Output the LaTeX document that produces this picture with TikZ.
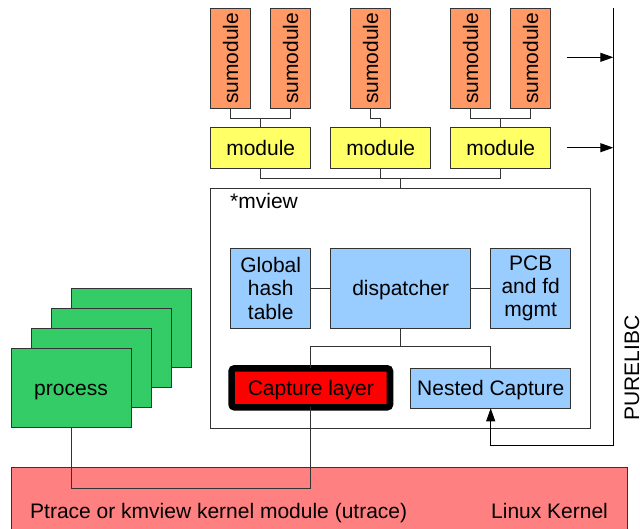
\documentclass[tikz,border=0pt]{standalone}
\usepackage{fontspec}
\setmainfont{Liberation Sans}
\usetikzlibrary{arrows.meta}
\definecolor{sumc}{HTML}{FF9966}
\definecolor{modc}{HTML}{FFFF66}
\definecolor{bluec}{HTML}{99CCFF}
\definecolor{greenc}{HTML}{33CC66}
\definecolor{kernc}{HTML}{FF8080}
\definecolor{linec}{HTML}{333333}
\begin{document}
\begin{tikzpicture}[x=1pt,y=-1pt,
  box/.style={draw=linec,line width=0.9pt,inner sep=0pt,outer sep=0pt,align=center,
    font=\fontsize{21}{23.3}\selectfont},
  oneline/.style={text height=15pt,text depth=0pt},
  sumbox/.style={box,fill=sumc,minimum width=40pt,minimum height=100pt},
  modbox/.style={box,oneline,fill=modc,minimum width=100pt,minimum height=40.6pt},
  bluebox/.style={box,fill=bluec},
  procbox/.style={box,oneline,fill=greenc,minimum width=120pt,minimum height=79.4pt},
  conn/.style={draw=linec,line width=0.9pt},
  arr/.style={conn,draw=black,-{Triangle[length=13pt,width=9pt]}},
  lbl/.style={inner sep=0pt,font=\fontsize{21}{23.3}\selectfont}]
\useasboundingbox (0,0) rectangle (640,528);
% kernel
\node[box,fill=kernc,minimum width=616.7pt,minimum height=80pt,anchor=north west] (kern) at (11,467.7) {};
\node[lbl,anchor=base west] (ktext) at (30,518.5) {Ptrace or kmview kernel module (utrace)};
\node[lbl,anchor=base west] (ltext) at (491,518.5) {Linux Kernel};
% sumodules
\node[sumbox] (s1) at (230.7,58.3) {\rotatebox{90}{sumodule}};
\node[sumbox] (s2) at (290.7,58.3) {\rotatebox{90}{sumodule}};
\node[sumbox] (s3) at (370.7,58.3) {\rotatebox{90}{sumodule}};
\node[sumbox] (s4) at (470.7,58.3) {\rotatebox{90}{sumodule}};
\node[sumbox] (s5) at (530.7,58.3) {\rotatebox{90}{sumodule}};
% modules
\node[modbox] (m1) at (260.7,148) {module};
\node[modbox] (m2) at (380.7,148) {module};
\node[modbox] (m3) at (500.7,148) {module};
\coordinate (j1) at (260.7,118.3);
\coordinate (j2) at (380.7,118.3);
\coordinate (j3) at (500.7,118.3);
\draw[conn] (s1.south) |- (j1) -| (s2.south);
\draw[conn] (j1) -- (m1.north);
\draw[conn] (s3.south) |- (j2) -- (m2.north);
\draw[conn] (s4.south) |- (j3) -| (s5.south);
\draw[conn] (j3) -- (m3.north);
% mview
\node[box,minimum width=380pt,minimum height=240pt] (mview) at (400.7,308.3) {};
\node[lbl,anchor=base west] (mvt) at (230,208) {*mview};
\coordinate (j4) at (400.7,178.3);
\draw[conn] (m1.south) |- (j4) -| (m3.south);
\draw[conn] (m2.south) -- (m2.south |- j4);
\draw[conn] (j4) -- (mview.north);
% inner blocks
\node[bluebox,minimum width=80pt,minimum height=80pt] (ght) at (270.7,288.3) {Global\\hash\\table};
\node[bluebox,oneline,minimum width=140pt,minimum height=80pt] (disp) at (400.7,288.3) {dispatcher};
\node[bluebox,minimum width=80pt,minimum height=80pt] (pcb) at (530.7,288.3) {PCB\\and fd\\mgmt};
\draw[conn] (ght.east) -- (disp.west);
\draw[conn] (disp.east) -- (pcb.west);
\node[box,oneline,draw=black,fill=red,line width=6.6pt,rounded corners=3pt,minimum width=158.4pt,minimum height=39pt] (cap) at (310.8,387.8) {Capture layer};
\node[bluebox,oneline,minimum width=160pt,minimum height=40pt] (nc) at (490.7,388.3) {Nested Capture};
\coordinate (j5) at (400.7,346.7);
\draw[conn] (disp.south) -- (j5);
\draw[conn] (cap.north) |- (j5) -| (nc.north);
% PURELIBC bar
\coordinate (bt) at (613.3,8.3);
\coordinate (bb) at (613.3,445.7);
\draw[arr] (bt) -- (bb) -| (nc.south);
\coordinate (a1) at (566.7,57.3);
\coordinate (a2) at (566.7,147.7);
\draw[arr] (a1) -- (a1 -| bt);
\draw[arr] (a2) -- (a2 -| bt);
\node[lbl,rotate=90,anchor=base] (pl) at (639,368.3) {PURELIBC};
% processes
\node[procbox] (p4) at (131,328) {};
\node[procbox] (p3) at (111,348) {};
\node[procbox] (p2) at (91,368) {};
\node[procbox] (p1) at (71,388) {process};
\coordinate (j6) at (310.8,488.3);
\draw[conn] (cap.south) -- (j6) -| (p1.south);
\end{tikzpicture}
\end{document}
